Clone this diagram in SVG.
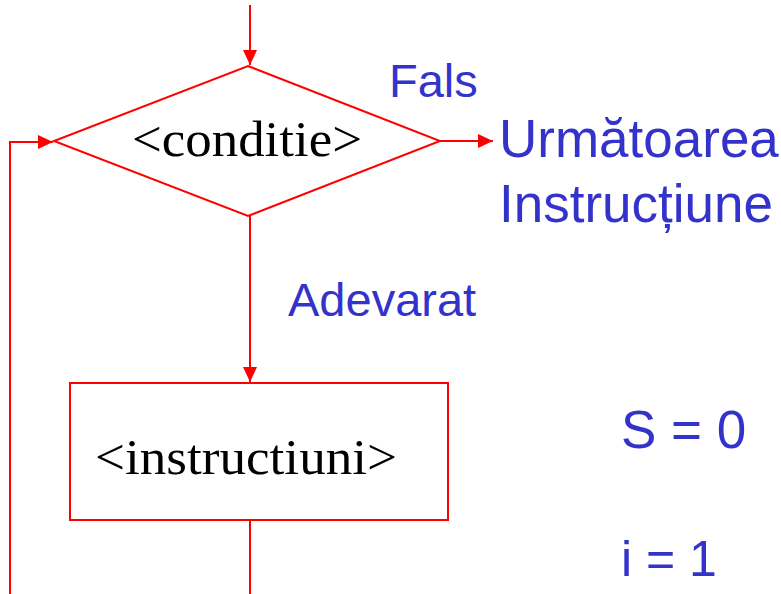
<svg xmlns="http://www.w3.org/2000/svg" width="781" height="594" viewBox="0 0 781 594">
<defs>
<style>
.shape{fill:#fff;stroke:#ff0000;stroke-width:2}
.conn{fill:none;stroke:#ff0000;stroke-width:2}
.serif{font-family:"Liberation Serif","Times New Roman",serif;fill:#000}
.lbl{font-family:"Liberation Sans",Arial,sans-serif;fill:#3333cc}
</style>
<marker id="ah" markerUnits="userSpaceOnUse" markerWidth="16" markerHeight="14" refX="15" refY="7" orient="auto">
<path d="M0,0 L15,7 L0,14 Z" fill="#ff0000"/>
</marker>
</defs>
<g id="connectors">
<path class="conn" d="M250,5 L250,65" marker-end="url(#ah)"/>
<path class="conn" d="M250,216 L250,382" marker-end="url(#ah)"/>
<path class="conn" d="M250,520 L250,594"/>
<path class="conn" d="M10,594 L10,142 L53,142" marker-end="url(#ah)"/>
<path class="conn" d="M440,141 L493,141" marker-end="url(#ah)"/>
</g>
<g id="condition">
<polygon class="shape" points="248,66 440,141 248,216 54,141"/>
<text class="serif" x="132" y="156" font-size="50" textLength="230" lengthAdjust="spacingAndGlyphs">&lt;conditie&gt;</text>
</g>
<g id="instructions">
<rect class="shape" x="70" y="383" width="378" height="137"/>
<text class="serif" x="95" y="474" font-size="50" textLength="302" lengthAdjust="spacingAndGlyphs">&lt;instructiuni&gt;</text>
</g>
<g id="labels">
<text class="lbl" x="389" y="97" font-size="47">Fals</text>
<text class="lbl" x="288" y="316" font-size="47">Adevarat</text>
<text class="lbl" x="499" y="157" font-size="53">Următoarea</text>
<text class="lbl" x="499" y="222" font-size="53">Instrucțiune</text>
<text class="lbl" x="621" y="448" font-size="53">S = 0</text>
<text class="lbl" x="621" y="576" font-size="50">i = 1</text>
</g>
</svg>
